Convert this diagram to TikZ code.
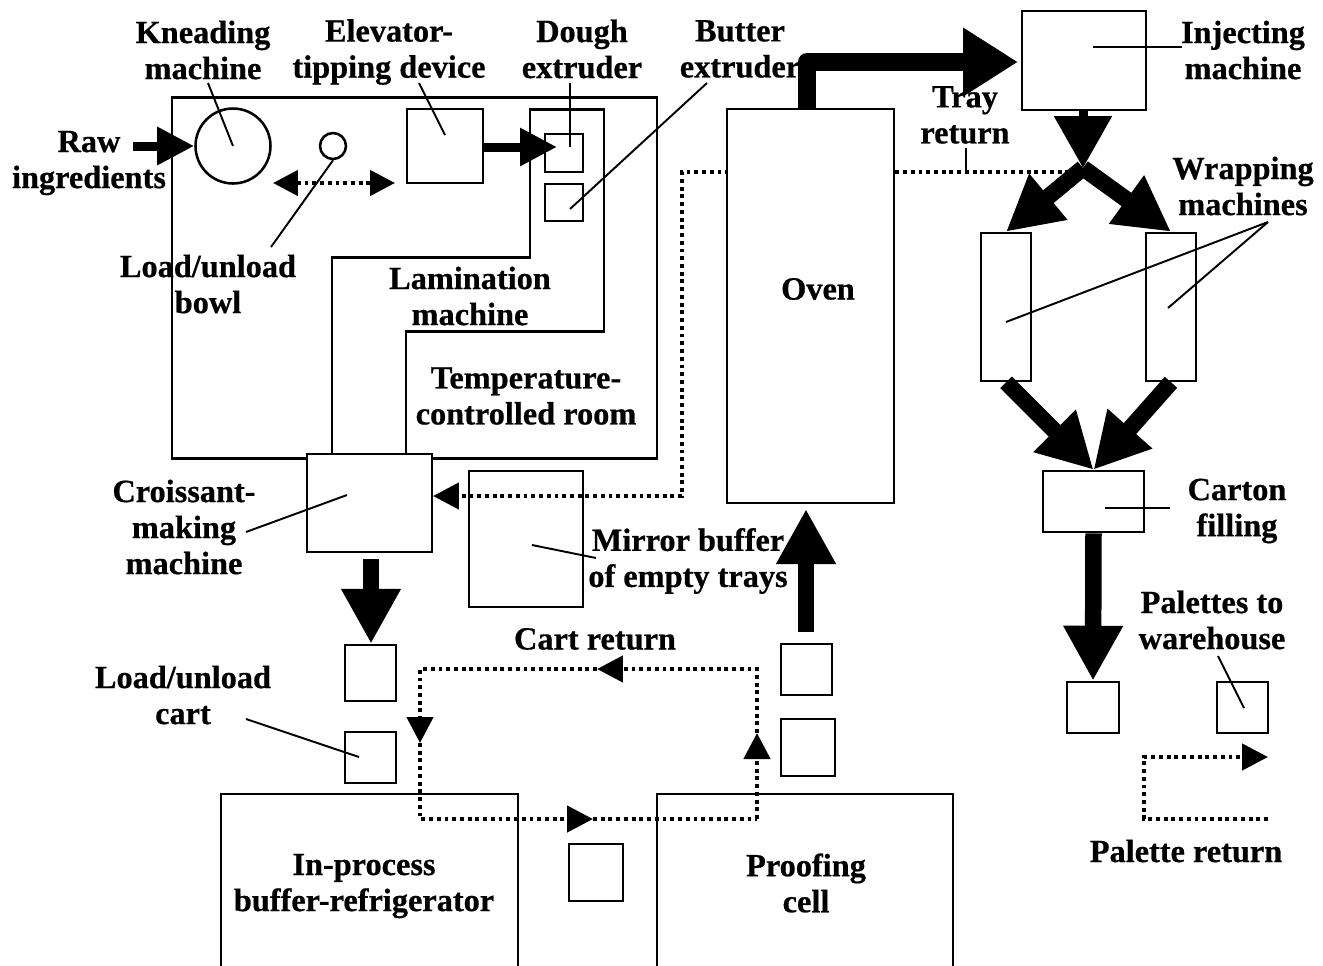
\documentclass[tikz,border=0pt]{standalone}
\usepackage{fontspec}
\setmainfont[BoldFeatures={FakeBold=0.6}]{Liberation Serif}
\usetikzlibrary{arrows.meta,fit,calc}
\begin{document}
\begin{tikzpicture}[x=0.02cm,y=-0.02cm,
  box/.style={draw, line width=1.45pt, inner sep=0pt, fill=white},
  room/.style={draw, line width=1.7pt},
  ring/.style={draw, circle, line width=1.45pt, inner sep=0pt},
  lbl/.style={font=\bfseries\fontsize{18.4}{20.5}\selectfont, align=center, inner sep=0pt},
  lead/.style={line width=1.1pt},
  dotl/.style={line width=2.6pt, dash pattern=on 2.2pt off 2.2pt},
  dtip/.style={-{Triangle[length=0.52cm,width=0.52cm]}},
  slim arrow/.style={line width=0.18cm, -{Triangle[length=0.74cm,width=0.72cm]}},
  big arrow/.style={line width=0.33cm, -{Triangle[length=1.1cm,width=1.12cm]}}]
\clip (0,0) rectangle (1323,965);
% temperature-controlled room and lamination machine outline
\draw[room] (172,97) rectangle (657,458);
\draw[room] (332,454) -- (332,257) -- (530,257) -- (530,109) -- (604,109) -- (604,331) -- (406,331) -- (406,454);
% machines
\node[ring, minimum size=1.5cm] (knead) at (233,146) {};
\node[ring, minimum size=0.52cm] (bowl) at (333,146) {};
\node[box, fit={(407,109) (483,183)}] (elev) {};
\node[box, fit={(545,134) (583,172)}] (dough) {};
\node[box, fit={(545,184) (583,221)}] (butter) {};
\node[box, fit={(307,454) (432,552)}] (crois) {};
\node[box, fit={(469,471) (583,607)}] (mirror) {};
\node[box, fit={(1022,11) (1146,110)}] (inj) {};
\node[box, fit={(981,233) (1031,381)}] (wl) {};
\node[box, fit={(1146,233) (1196,381)}] (wr) {};
\node[box, fit={(1043,471) (1144,532)}] (carton) {};
\node[box, fit={(345,645) (396,701)}] (b1) {};
\node[box, fit={(345,732) (396,783)}] (b2) {};
\node[box, fit={(569,844) (623,901)}] (b3) {};
\node[box, fit={(781,644) (832,695)}] (p1) {};
\node[box, fit={(781,719) (835,776)}] (p2) {};
\node[box, fit={(1067,682) (1119,733)}] (r1) {};
\node[box, fit={(1217,682) (1268,733)}] (r2) {};
\node[box, fit={(221,794) (518,1000)}] (inproc) {};
\node[box, fit={(657,794) (953,1000)}] (proof) {};
% tray return (passes behind the oven)
\coordinate (trstart) at (1077,172);
\coordinate (trtip) at (433,496);
\draw[dotl, dtip] (trstart) -- (682,172) -- (682,496) -- (trtip);
\node[box, fit={(727,109) (894,503)}] (oven) {};
% thick flow arrows
\coordinate (rawstart) at (133,146);
\draw[slim arrow] (rawstart) -- (knead.west);
\coordinate (dtipc) at (557,147);
\draw[slim arrow] (elev.east |- dtipc) -- (dtipc);
\coordinate (ovtop) at (807,110);
\coordinate (ovturn) at (807,62);
\coordinate (injtip) at (1018,62);
\draw[line width=0.36cm, line join=round, -{Triangle[length=1.1cm,width=1.3cm]}] (ovtop) -- (ovturn) -- (injtip);
\coordinate (split) at (1083,168);
\draw[line width=0.18cm, -{Triangle[length=1.04cm,width=1.12cm]}] (inj.south -| split) -- (split);
\draw[big arrow] (split) -- (wl.north);
\draw[big arrow] (split) -- (wr.north);
\draw[big arrow] (wl.south) -- (carton.north);
\draw[big arrow] (wr.south) -- (carton.north);
\draw[big arrow] (carton.south) -- (r1.north);
\coordinate (crstart) at (371,559);
\draw[big arrow] (crstart) -- (b1.north -| crstart);
\coordinate (upstart) at (806,632);
\coordinate (uptip) at (806,509);
\draw[big arrow] (upstart) -- (uptip);
% bowl shuttle
\coordinate (shl) at (273,183);
\coordinate (shr) at (395,183);
\draw[dotl, {Triangle[length=0.5cm,width=0.5cm]}-{Triangle[length=0.5cm,width=0.5cm]}] (shl) -- (shr);
% cart return loop
\coordinate (c1) at (757,819);
\coordinate (c2) at (757,733);
\coordinate (c3) at (597,669);
\coordinate (c4) at (420,743);
\coordinate (c5) at (593,819);
\draw[dotl, dtip] (c1) -- (c2);
\draw[dotl, dtip] (c2) -- (757,669) -- (c3);
\draw[dotl, dtip] (c3) -- (420,669) -- (c4);
\draw[dotl, dtip] (c4) -- (420,819) -- (c5);
\draw[dotl] (c5) -- (c1);
% palette return
\coordinate (pr1) at (1268,819);
\coordinate (pr2) at (1268,757);
\draw[dotl, dtip] (pr1) -- (1144,819) -- (1144,757) -- (pr2);
% labels
\node[lbl] (lknead) at (203,50) {Kneading\\machine};
\node[lbl] (lelev) at (389,52) {Elevator-\\tipping device};
\node[lbl] (ldough) at (582,49) {Dough\\extruder};
\node[lbl] (lbutter) at (740,49) {Butter\\extruder};
\node[lbl] (lraw) at (89,163) {Raw\\ingredients};
\node[lbl] (lbowl) at (208,284) {Load/unload\\bowl};
\node[lbl] (llam) at (470,296) {Lamination\\machine};
\node[lbl] (ltemp) at (526,396) {Temperature-\\controlled room};
\node[lbl] (loven) at (818,289) {Oven};
\node[lbl] (ltray) at (965,115) {Tray\\return};
\node[lbl] (linj) at (1243,50) {Injecting\\machine};
\node[lbl] (lwrap) at (1243,186) {Wrapping\\machines};
\node[lbl] (lcrois) at (184,527) {Croissant-\\making\\machine};
\node[lbl] (lmirror) at (688,561) {Mirror buffer\\of empty trays};
\node[lbl] (lcarton) at (1237,511) {Carton\\filling};
\node[lbl] (lpal) at (1212,620) {Palettes to\\warehouse};
\node[lbl] (lcart) at (595,639) {Cart return};
\node[lbl] (lload) at (183,695) {Load/unload\\cart};
\node[lbl] (linproc) at (364,886) {In-process\\buffer-refrigerator};
\node[lbl] (lproof) at (806,883) {Proofing\\cell};
\node[lbl] (lpret) at (1186,851) {Palette return};
% leader lines
\draw[lead] (208,83) -- (knead.center);
\draw[lead] (419,83) -- (445,135);
\draw[lead] (570,83) -- (570,147);
\draw[lead] (707,83) -- (570,209);
\draw[lead] (bowl.south) -- (271,247);
\draw[lead] (966,148) -- (966,170);
\draw[lead] (1093,47) -- (1182,47);
\draw[lead] (1268,222) -- (1006,322);
\draw[lead] (1268,222) -- (1168,308);
\draw[lead] (246,532) -- (347,495);
\draw[lead] (532,545) -- (596,558);
\draw[lead] (1105,508) -- (1170,508);
\draw[lead] (246,719) -- (359,757);
\draw[lead] (1218,656) -- (1244,708);
\end{tikzpicture}
\end{document}
